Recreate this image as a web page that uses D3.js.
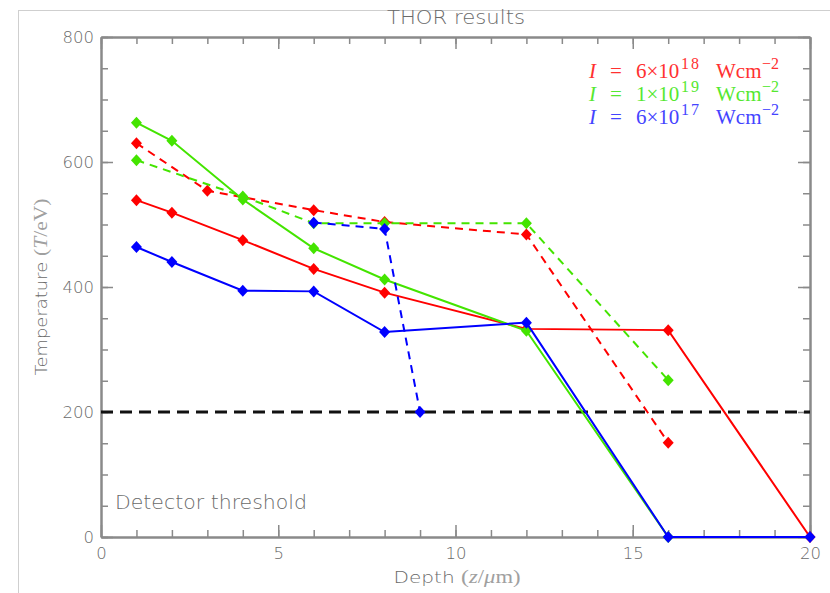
<!DOCTYPE html>
<html>
<head>
<meta charset="utf-8">
<script src="https://cdn.jsdelivr.net/npm/d3@7"></script>
<style>
  body { margin: 0; background: #fff; }
  svg { display: block; }
</style>
</head>
<body>
<svg id="chart" width="830" height="593"></svg>
<script>
// ---- data ----
const title = "THOR results";
const xTicksMajor = [0, 5, 10, 15, 20];
const yTicksMajor = [0, 200, 400, 600, 800];
const threshold = 200;

const redSolidX = [1, 2, 4, 6, 8, 12, 16, 20];
const redSolidY = [539, 519, 475, 429, 391, 333, 331, 0];
const redDashX = [1, 3, 6, 8, 12, 16];
const redDashY = [630, 554, 523, 504, 484, 151];

const greenSolidX = [1, 2, 4, 6, 8, 12, 16];
const greenSolidY = [663, 634, 540, 462, 412, 330, 0];
const greenDashX = [1, 4, 6, 8, 12, 16];
const greenDashY = [603, 545, 502, 502, 502, 251];

const blueSolidX = [1, 2, 4, 6, 8, 12, 16, 20];
const blueSolidY = [464, 440, 394, 393, 328, 343, 0, 0];
const blueDashX = [6, 8, 9];
const blueDashY = [503, 493, 200];

const legendMant = ["6", "1", "6"];
const legendExp = ["18", "19", "17"];

// ---- drawing ----
const svg = d3.select("#chart");
const axisColor = "#8a8a8a";
const textColor = "#6a6a6a";
const RED = "#ff0000", GREEN = "#44e400", BLUE = "#0000ff";

// outer light frame
svg.append("rect").attr("x", 18.5).attr("y", 10.5).attr("width", 900).attr("height", 700)
  .attr("fill", "none").attr("stroke", "#cfcfcf").attr("stroke-width", 1);

const x = d3.scaleLinear().domain([0, 20]).range([101, 810]);
const y = d3.scaleLinear().domain([0, 800]).range([537, 37]);

function styleAxis(g) {
  g.selectAll("path.domain").attr("stroke", axisColor).attr("stroke-width", 2);
  g.selectAll(".tick line").attr("stroke", axisColor).attr("stroke-width", 1.5);
  g.selectAll(".tick text").attr("fill", textColor)
    .attr("font-family", "DejaVu Sans").attr("font-weight", 200).attr("font-size", 16.5);
}

const xMinor = d3.range(0, 21, 1);
const yMinor = d3.range(0, 801, 50);

// minor ticks
[[d3.axisBottom(x), 537], [d3.axisTop(x), 37]].forEach(([ax, ty]) => {
  svg.append("g").attr("transform", `translate(0,${ty})`)
    .call(ax.tickValues(xMinor).tickSize(-7).tickSizeOuter(0).tickFormat(""))
    .call(styleAxis);
});
[[d3.axisLeft(y), 101], [d3.axisRight(y), 810]].forEach(([ax, tx]) => {
  svg.append("g").attr("transform", `translate(${tx},0)`)
    .call(ax.tickValues(yMinor).tickSize(-7).tickSizeOuter(0).tickFormat(""))
    .call(styleAxis);
});
// major ticks
svg.append("g").attr("transform", "translate(0,537)")
  .call(d3.axisBottom(x).tickValues(xTicksMajor).tickSize(-12).tickSizeOuter(0).tickPadding(10))
  .call(styleAxis);
svg.append("g").attr("transform", "translate(0,37)")
  .call(d3.axisTop(x).tickValues(xTicksMajor).tickSize(-12).tickSizeOuter(0).tickFormat(""))
  .call(styleAxis);
svg.append("g").attr("transform", "translate(101,0)")
  .call(d3.axisLeft(y).tickValues(yTicksMajor).tickSize(-12).tickSizeOuter(0).tickPadding(7))
  .call(styleAxis);
svg.append("g").attr("transform", "translate(810,0)")
  .call(d3.axisRight(y).tickValues(yTicksMajor).tickSize(-12).tickSizeOuter(0).tickFormat(""))
  .call(styleAxis);

// threshold line
svg.append("line")
  .attr("x1", x(0)).attr("x2", x(20)).attr("y1", y(threshold)).attr("y2", y(threshold))
  .attr("stroke", "#111").attr("stroke-width", 3).attr("stroke-dasharray", "12,7");

const line = d3.line().x(d => x(d[0])).y(d => y(d[1]));
const series = [
  { xs: redSolidX, ys: redSolidY, c: RED, dash: null },
  { xs: redDashX, ys: redDashY, c: RED, dash: "8,6" },
  { xs: greenSolidX, ys: greenSolidY, c: GREEN, dash: null },
  { xs: greenDashX, ys: greenDashY, c: GREEN, dash: "8,6" },
  { xs: blueSolidX, ys: blueSolidY, c: BLUE, dash: null },
  { xs: blueDashX, ys: blueDashY, c: BLUE, dash: "8,6" }
];
const diamond = "M0,-6L5.5,0L0,6L-5.5,0Z";
series.forEach(s => {
  const pts = s.xs.map((v, i) => [v, s.ys[i]]);
  svg.append("path").datum(pts).attr("d", line)
    .attr("fill", "none").attr("stroke", s.c).attr("stroke-width", 2)
    .attr("stroke-dasharray", s.dash);
  svg.append("g").selectAll("path").data(pts).join("path")
    .attr("d", diamond)
    .attr("transform", d => `translate(${x(d[0])},${y(d[1])})`)
    .attr("fill", s.c);
});

// title
svg.append("text").attr("x", 456).attr("y", 24).attr("text-anchor", "middle")
  .attr("font-family", "DejaVu Sans").attr("font-weight", 200).attr("font-size", 19).attr("fill", textColor)
  .attr("textLength", 138).attr("lengthAdjust", "spacingAndGlyphs")
  .text(title);

// detector threshold label
svg.append("text").attr("x", 115).attr("y", 509)
  .attr("font-family", "DejaVu Sans").attr("font-weight", 200).attr("font-size", 19).attr("fill", textColor)
  .attr("textLength", 192).attr("lengthAdjust", "spacingAndGlyphs")
  .text("Detector threshold");

// x-axis label
const xl = svg.append("text").attr("x", 457).attr("y", 583).attr("text-anchor", "middle")
  .attr("font-family", "DejaVu Sans").attr("font-weight", 200).attr("font-size", 16).attr("fill", textColor)
  .attr("textLength", 127).attr("lengthAdjust", "spacingAndGlyphs");
xl.append("tspan").text("Depth ");
const serif = t => t.attr("font-family", "Liberation Serif").attr("font-weight", 400).attr("fill", "#a0a0a0");
serif(xl.append("tspan")).attr("font-size", 19).text("(");
serif(xl.append("tspan")).attr("font-style", "italic").attr("font-size", 18).text("z");
serif(xl.append("tspan")).attr("font-size", 18).text("/");
serif(xl.append("tspan")).attr("font-style", "italic").attr("font-size", 18).text("μ");
serif(xl.append("tspan")).attr("font-size", 18).text("m)");

// y-axis label
const yl = svg.append("text").attr("transform", "translate(47,287) rotate(-90)")
  .attr("text-anchor", "middle")
  .attr("font-family", "DejaVu Sans").attr("font-weight", 200).attr("font-size", 15).attr("fill", textColor)
  .attr("textLength", 177).attr("lengthAdjust", "spacingAndGlyphs");
yl.append("tspan").text("Temperature ");
serif(yl.append("tspan")).attr("font-size", 18).text("(");
serif(yl.append("tspan")).attr("font-style", "italic").attr("font-size", 18).text("T");
serif(yl.append("tspan")).attr("font-size", 18).text("/eV)");

// legend
const legColors = ["#ff3030", "#55e830", "#4444ff"];
const legY = [78, 101, 124];
legendMant.forEach((m, i) => {
  const t = svg.append("text").attr("y", legY[i])
    .attr("font-family", "Liberation Serif").attr("font-size", 21).attr("fill", legColors[i]);
  t.append("tspan").attr("x", 589).attr("font-style", "italic").text("I");
  t.append("tspan").attr("x", 610).text("=");
  t.append("tspan").attr("x", 636).text(m + "×10");
  t.append("tspan").attr("x", 681).attr("dy", -9).attr("font-size", 16).attr("letter-spacing", 2).text(legendExp[i]);
  t.append("tspan").attr("x", 716).attr("dy", 9).text("Wcm");
  t.append("tspan").attr("x", 762).attr("dy", -9).attr("font-size", 16).text("−2");
});
</script>
</body>
</html>
